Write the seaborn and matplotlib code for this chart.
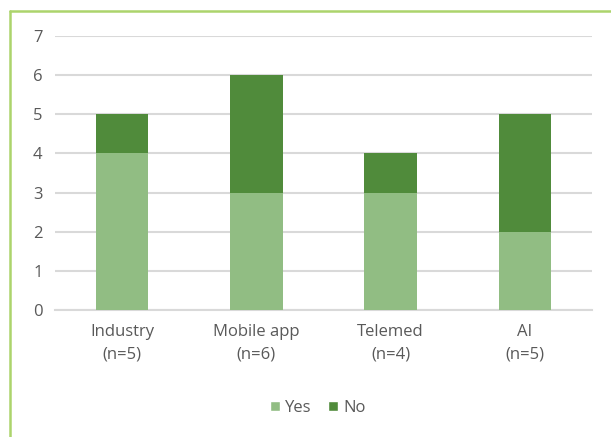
import matplotlib
matplotlib.use("Agg")
import matplotlib.pyplot as plt
import seaborn as sns
import pandas as pd
from matplotlib.lines import Line2D
from matplotlib.patches import Patch

categories = ["Industry\n(n=5)", "Mobile app\n(n=6)", "Telemed\n(n=4)", "AI\n(n=5)"]
yes_vals = [4, 3, 3, 2]
no_vals = [1, 3, 1, 3]

yes_color = "#91bd83"
no_color = "#508b3b"
border_color = "#acd46c"
grid_color = "#d9d9d9"
text_color = "#595959"

sns.set_theme(style="white")
plt.rcParams['font.family'] = ['Open Sans', 'DejaVu Sans']

df = pd.DataFrame({"cat": categories, "Yes": yes_vals, "No": no_vals})
df["Total"] = df["Yes"] + df["No"]

fig = plt.figure(figsize=(6.11, 4.37), dpi=100)
ax = fig.add_axes([55/611, 1-310/437, (592-55)/611, (310-36)/437])

sns.barplot(data=df, x="cat", y="Total", color=no_color, width=0.39, ax=ax,
            saturation=1, zorder=3, linewidth=0, edgecolor="none")
sns.barplot(data=df, x="cat", y="Yes", color=yes_color, width=0.39, ax=ax,
            saturation=1, zorder=3, linewidth=0, edgecolor="none")

ax.set_ylim(0, 7)
ax.set_xlim(-0.5, 3.5)
ax.set_yticks(range(0, 8))
ax.yaxis.grid(True, color=grid_color, linewidth=1.5, zorder=0)
ax.set_axisbelow(True)
for s in ["top", "right", "left"]:
    ax.spines[s].set_visible(False)
ax.spines["bottom"].set_color(grid_color)
ax.spines["bottom"].set_linewidth(1.5)
ax.set_xlabel("")
ax.set_ylabel("")
ax.tick_params(axis="both", length=0, colors=text_color, labelsize=12)
ax.tick_params(axis="y", pad=9)
ax.tick_params(axis="x", pad=10)
for t in ax.get_xticklabels():
    t.set_linespacing(1.55)

handles = [Patch(facecolor=yes_color, label="Yes"), Patch(facecolor=no_color, label="No")]
fig.legend(handles=handles, loc="center", bbox_to_anchor=(318/611, 1-408/437), ncol=2,
           frameon=False, fontsize=12, handlelength=0.6, handleheight=0.6,
           handletextpad=0.3, columnspacing=1.0, labelcolor=text_color)

fig.add_artist(Line2D([9.5/611, 9.5/611], [0, 1-11/437], color=border_color, linewidth=1.8))
fig.add_artist(Line2D([9.5/611, 1], [1-11/437, 1-11/437], color=border_color, linewidth=1.8))

fig.savefig("out.png", dpi=100)
